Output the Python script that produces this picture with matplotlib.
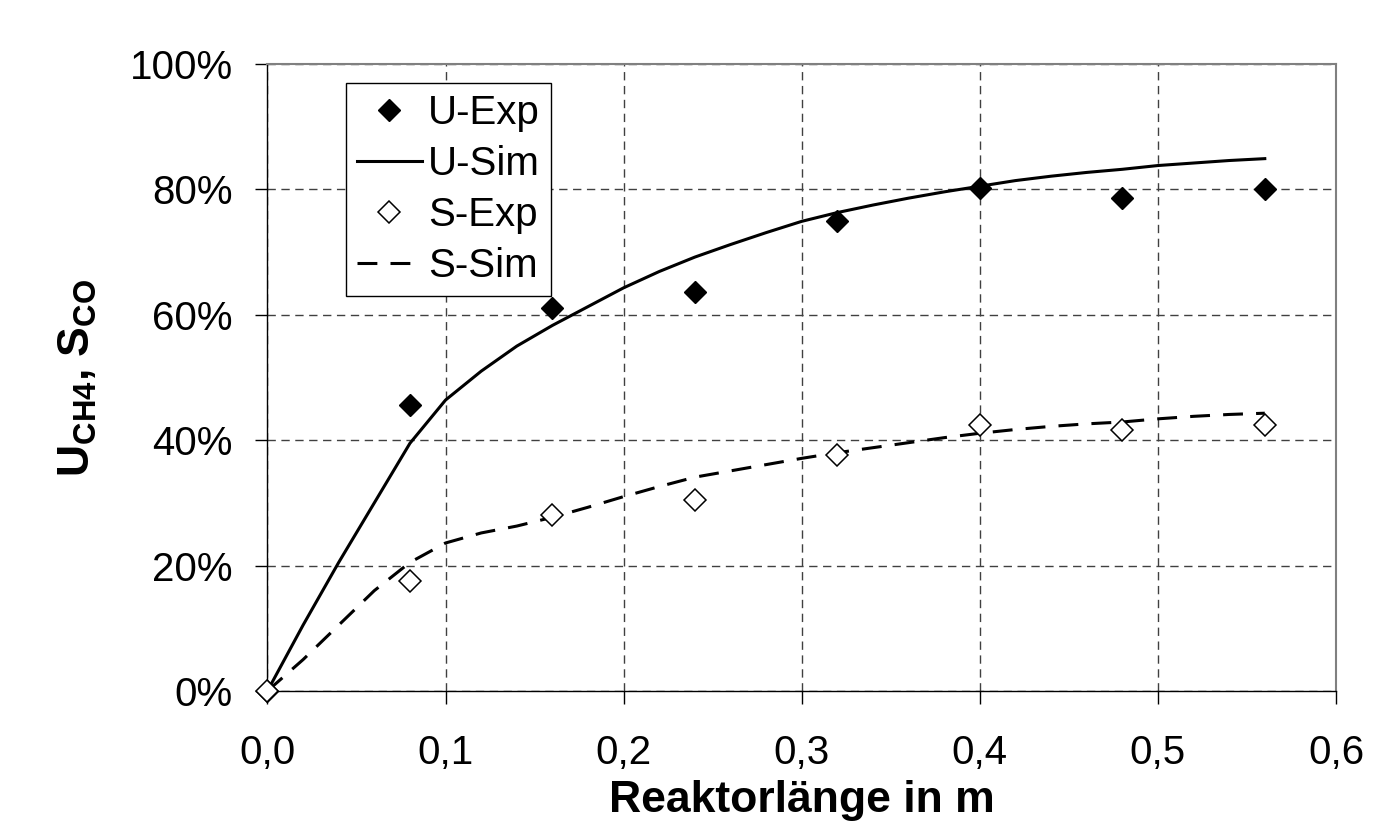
########################################################
# Libraries
########################################################
import matplotlib
matplotlib.use("Agg")
import matplotlib.pyplot as plt

########################################################
# Data
########################################################

# Experimental points
laenge_exp = [0.0, 0.08, 0.16, 0.24, 0.32, 0.40, 0.48, 0.56]
u_exp = [0.0, 45.6, 61.1, 63.7, 75.0, 80.2, 78.7, 80.0]
s_exp = [0.0, 17.6, 28.0, 30.4, 37.6, 42.4, 41.6, 42.4]

# Simulation curves
laenge_sim = [0.00, 0.02, 0.04, 0.06, 0.08, 0.10, 0.12, 0.14, 0.16, 0.18,
              0.20, 0.22, 0.24, 0.26, 0.28, 0.30, 0.32, 0.34, 0.36, 0.38,
              0.40, 0.42, 0.44, 0.46, 0.48, 0.50, 0.52, 0.54, 0.56]
u_sim = [0.0, 10.5, 20.5, 30.0, 39.5, 46.4, 51.0, 55.0, 58.3, 61.3,
         64.3, 66.9, 69.2, 71.2, 73.1, 74.9, 76.3, 77.5, 78.6, 79.6,
         80.5, 81.4, 82.1, 82.7, 83.2, 83.8, 84.2, 84.6, 84.9]
s_sim = [0.0, 5.0, 10.5, 16.0, 20.5, 23.6, 25.2, 26.3, 27.7, 29.3,
         31.0, 32.6, 34.1, 35.1, 36.1, 37.1, 38.0, 38.8, 39.6, 40.4,
         41.1, 41.7, 42.2, 42.6, 42.9, 43.4, 43.8, 44.1, 44.3]

# Ticks
x_ticks = [0.0, 0.1, 0.2, 0.3, 0.4, 0.5, 0.6]
x_labels = ["0,0", "0,1", "0,2", "0,3", "0,4", "0,5", "0,6"]
y_ticks = [0, 20, 40, 60, 80, 100]
y_labels = ["0%", "20%", "40%", "60%", "80%", "100%"]

########################################################
# Plot
########################################################
plt.rcParams["font.family"] = ["Liberation Sans", "DejaVu Sans"]
plt.rcParams["mathtext.fontset"] = "custom"
plt.rcParams["mathtext.rm"] = "Liberation Sans"
plt.rcParams["mathtext.bf"] = "Liberation Sans:bold"

fig = plt.figure(figsize=(13.93, 8.35), dpi=100)
ax = fig.add_axes([0.1920, 0.1725, 0.7671, 0.7509])

# Curves
ax.plot(laenge_sim, u_sim, color="black", linewidth=2.2, label="U-Sim", zorder=3)
ax.plot(laenge_sim, s_sim, color="black", linewidth=2.2,
        linestyle=(0, (6.5, 4.3)), label="S-Sim", zorder=3)

# Points
ax.plot(laenge_exp, u_exp, linestyle="none", marker="D", markersize=11.5,
        color="black", label="U-Exp", zorder=4, clip_on=False)
ax.plot(laenge_exp, s_exp, linestyle="none", marker="D", markersize=11.5,
        markerfacecolor="white", markeredgecolor="black", markeredgewidth=1.1,
        label="S-Exp", zorder=4, clip_on=False)

# Axes
ax.set_xlim(0, 0.6)
ax.set_ylim(0, 100)
ax.set_xticks(x_ticks)
ax.set_xticklabels(x_labels)
ax.set_yticks(y_ticks)
ax.set_yticklabels(y_labels)
ax.tick_params(axis="both", labelsize=29, length=9, width=1.0, direction="out")
ax.tick_params(axis="x", pad=22)
ax.tick_params(axis="y", pad=16)

ax.set_xlabel("Reaktorlänge in m", fontsize=32, fontweight="bold", labelpad=6)
ax.set_ylabel(r"$\mathbf{U_{CH4}}$, $\mathbf{S_{CO}}$", fontsize=32,
              fontweight="bold", labelpad=22)

for side in ["left", "bottom"]:
    ax.spines[side].set_color("black")
    ax.spines[side].set_linewidth(1.0)
for side in ["top", "right"]:
    ax.spines[side].set_color("#808080")
    ax.spines[side].set_linewidth(1.5)

# Grid
ax.grid(True, color="#404040", linewidth=1.0, linestyle=(0, (6, 4)))
ax.set_axisbelow(True)

# Legend
handles, labels = ax.get_legend_handles_labels()
ordre = [labels.index(n) for n in ["U-Exp", "U-Sim", "S-Exp", "S-Sim"]]
leg = ax.legend([handles[i] for i in ordre], [labels[i] for i in ordre],
                loc="upper left", bbox_to_anchor=(0.0735, 0.9697),
                borderaxespad=0, fontsize=29, frameon=True, fancybox=False,
                framealpha=1, edgecolor="black", numpoints=1,
                handlelength=1.6, handletextpad=0.15, labelspacing=0.32,
                borderpad=0.28)
leg.get_frame().set_linewidth(1.0)

fig.savefig("out.png", dpi=100)
